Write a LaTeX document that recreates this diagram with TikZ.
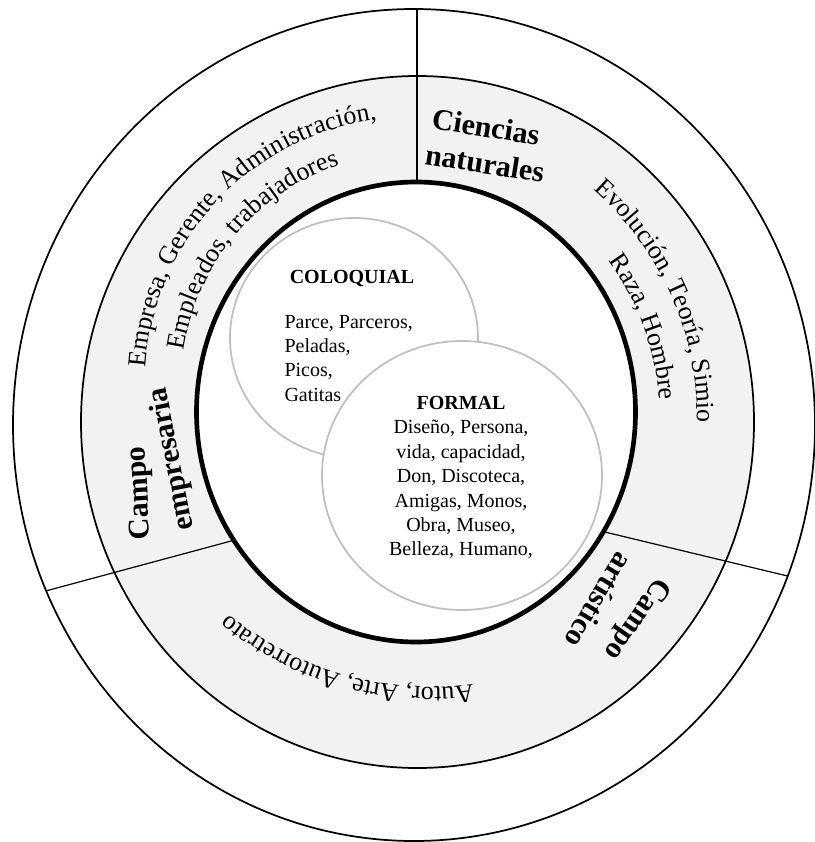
\documentclass[tikz,border=0pt]{standalone}
\usepackage{fontspec}
\setmainfont{Liberation Serif}
\usetikzlibrary{decorations.text}

\tikzset{every picture/.style={line width=0.75pt}}

\begin{document}
\begin{tikzpicture}[x=0.75pt,y=0.75pt,yscale=-1,xscale=1]
\useasboundingbox (0,0) rectangle (814,842);

%Shape: Ring [id:band]
\fill [color={rgb, 255:red, 242; green, 242; blue, 242 }, even odd rule] (417.5,422) ellipse [x radius=336.5, y radius=346] (416,412) ellipse [x radius=219.5, y radius=230] ;
%Shape: Ellipse [id:outer]
\draw [line width=1.3] (414,425) ellipse [x radius=401, y radius=416] ;
%Shape: Ellipse [id:bandedge]
\draw [line width=1.3] (417.5,422) ellipse [x radius=336.5, y radius=346] ;
%Straight Lines [id:top]
\draw [line width=0.9]    (417,9) -- (417,182) ;
%Straight Lines [id:left]
\draw [line width=0.9]    (46.7,590.7) -- (233,540.5) ;
%Straight Lines [id:right]
\draw [line width=0.9]    (604,531.8) -- (787.5,576) ;
%Shape: Ellipse [id:thick]
\draw [line width=3.5] (416,412) ellipse [x radius=219.5, y radius=230] ;

%Shape: Ellipse [id:coloquialcircle]
\draw [color={rgb, 255:red, 191; green, 191; blue, 191 }, line width=1.3, fill=white] (354,338) ellipse [x radius=124, y radius=120] ;
%Shape: Ellipse [id:formalcircle]
\draw [color={rgb, 255:red, 191; green, 191; blue, 191 }, line width=1.3, fill=white] (462,475.5) ellipse [x radius=140, y radius=134.5] ;

% Curved Text
\path [decorate, decoration={text along path, text align=center, text={|\fontsize{19.5}{23}\selectfont|Empresa, Gerente, Administración,}}] ([shift={(163:268)}]413,385) arc [start angle=163, end angle=283, radius=268] ;
% Curved Text
\path [decorate, decoration={text along path, text align=center, text={|\fontsize{19.5}{23}\selectfont|Empleados, trabajadores}}] ([shift={(160:232)}]413,385) arc [start angle=160, end angle=280, radius=232] ;
% Curved Text
\path [decorate, decoration={text along path, text align=center, text={|\fontsize{19.5}{23}\selectfont|Evolución, Teoría, Simio}}] ([shift={(-84:303)}]394,418) arc [start angle=-84, end angle=36, radius=303] ;
% Curved Text
\path [decorate, decoration={text along path, text align=center, text={|\fontsize{19.5}{23}\selectfont|Raza, Hombre}}] ([shift={(-80:266)}]394,418) arc [start angle=-80, end angle=40, radius=266] ;
% Curved Text
\path [decorate, decoration={text along path, text align=center, text={|\fontsize{19.5}{23}\selectfont|Autor, Arte, Autorretrato}}] ([shift={(46:314)}]430,373) arc [start angle=46, end angle=166, radius=314] ;

% Text Node
\draw (486,126.7) node (ciencias) [rotate=-9][inner sep=0.75pt]  [font=\fontsize{22.5}{26}\selectfont\bfseries]  {Ciencias};
% Text Node
\draw (485,163.3) node (naturales) [rotate=-9][inner sep=0.75pt]  [font=\fontsize{22.5}{26}\selectfont\bfseries]  {naturales};
% Text Node
\draw (140.8,493) node (campoemp) [rotate=93][inner sep=0.75pt]  [font=\fontsize{22.5}{26}\selectfont\bfseries]  {Campo};
% Text Node
\draw (172.5,459) node (empresaria) [rotate=101][inner sep=0.75pt]  [font=\fontsize{22.5}{26}\selectfont\bfseries]  {empresaria};
% Text Node
\draw (635.8,618.3) node (campoart) [rotate=-125][inner sep=0.75pt]  [font=\fontsize{22.5}{26}\selectfont\bfseries]  {Campo};
% Text Node
\draw (599.2,600.8) node (artistico) [rotate=-121][inner sep=0.75pt]  [font=\fontsize{22.5}{26}\selectfont\bfseries]  {artístico};

% Text Node
\draw (352,283.3) node (coloquial) [anchor=base][inner sep=0pt]  [font=\fontsize{15}{18.3}\selectfont\bfseries]  {COLOQUIAL};
% Text Node
\draw (284,314.5) node (coloquialwords) [anchor=north west][inner sep=0pt]  [font=\fontsize{15}{18.3}\selectfont, align=left]  {Parce, Parceros,\\Peladas,\\Picos,\\Gatitas};
% Text Node
\draw (461,395.8) node (formal) [anchor=north][inner sep=0pt]  [font=\fontsize{15}{18.3}\selectfont, align=center]  {\textbf{FORMAL}\\Diseño, Persona,\\vida, capacidad,\\Don, Discoteca,\\Amigas, Monos,\\Obra, Museo,\\Belleza, Humano,};

\end{tikzpicture}
\end{document}
